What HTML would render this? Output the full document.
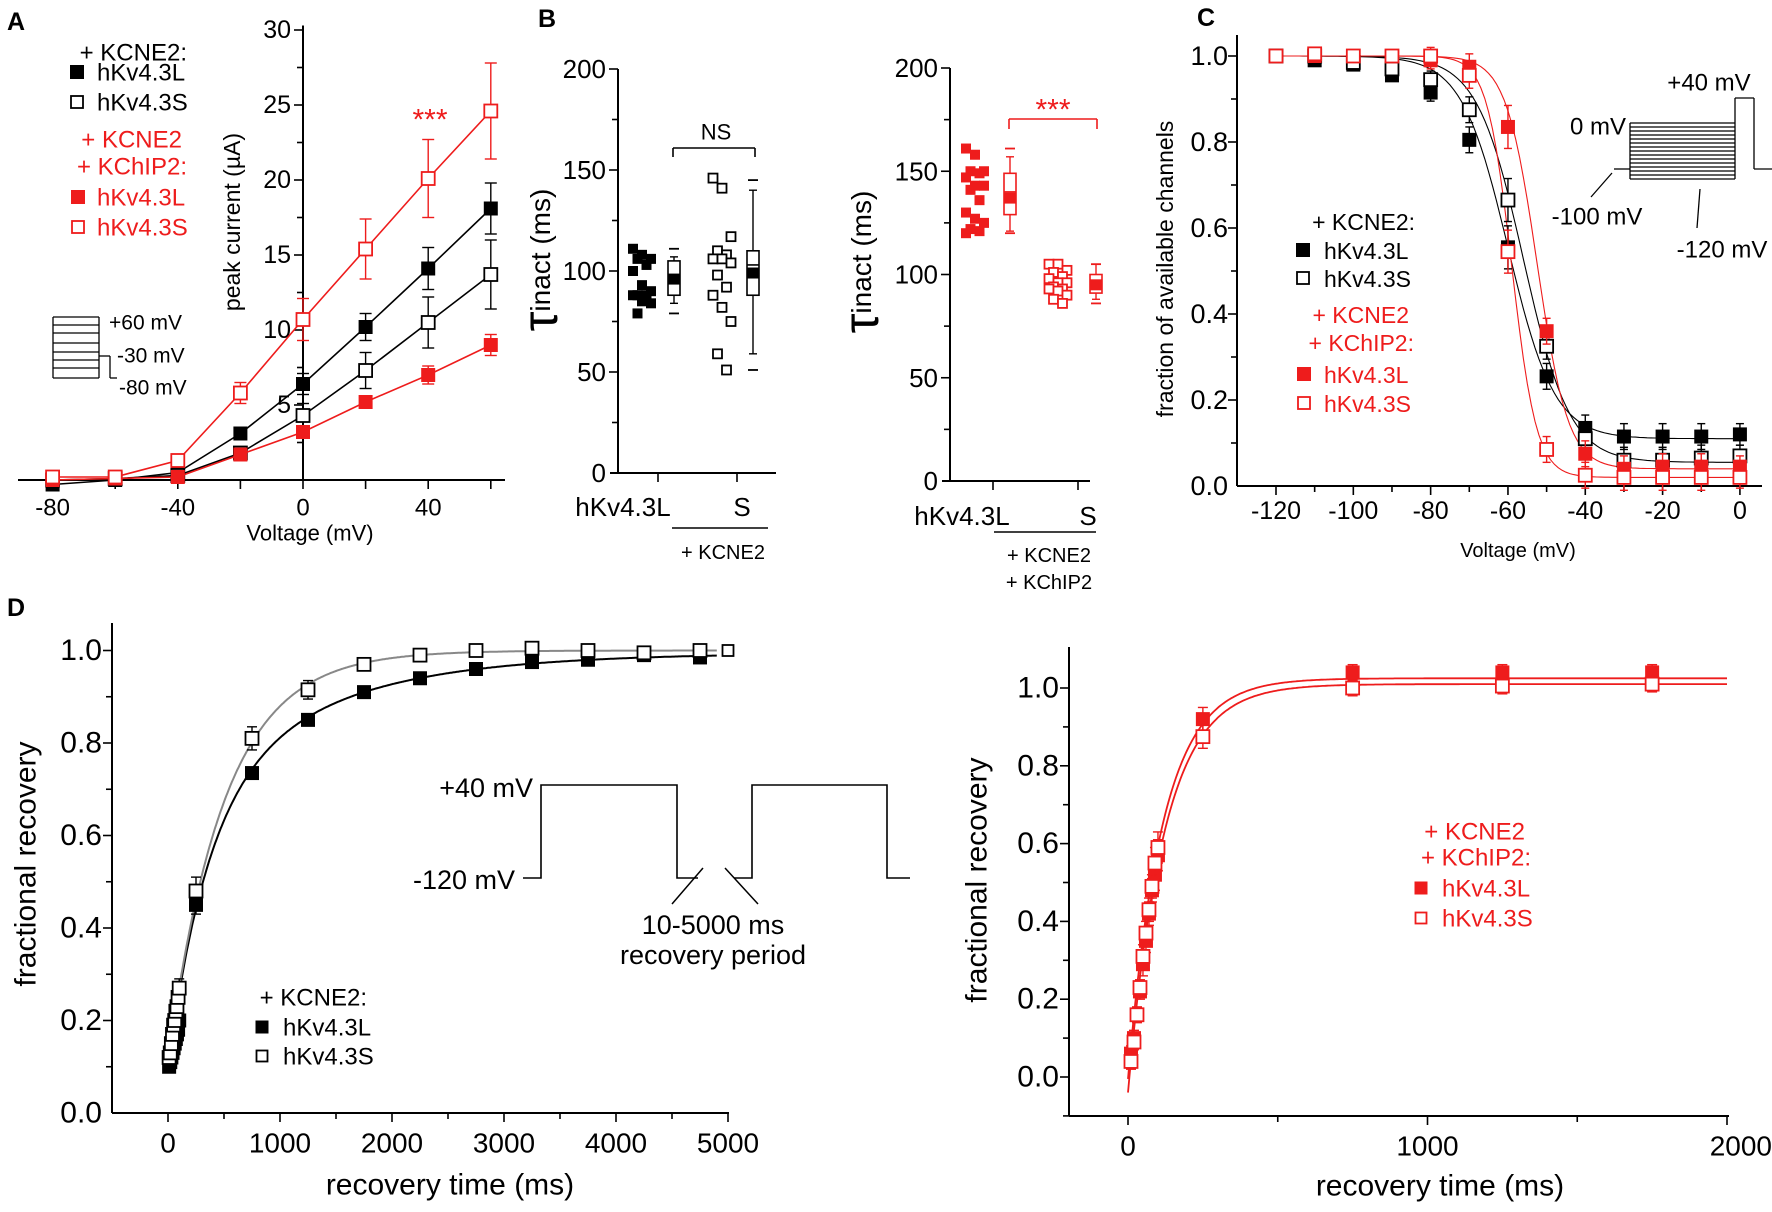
<!DOCTYPE html>
<html><head><meta charset="utf-8"><style>
html,body{margin:0;padding:0;background:#fff;}
svg{display:block;font-family:"Liberation Sans",Arial,sans-serif;}
</style></head><body>
<svg id="fig" width="1772" height="1212" viewBox="0 0 1772 1212" xmlns="http://www.w3.org/2000/svg"></svg>
<script>
// ---------- Panel A data ----------
const aVolt=[-80,-60,-40,-20,0,20,40,60];
const aKL=[-0.3,0,0.5,3.1,6.4,10.2,14.1,18.1];
const aKLe=[0.1,0.1,0.2,0.2,0.7,0.9,1.4,1.7];
const aKS=[0,0.1,0.3,1.8,4.3,7.3,10.5,13.7];
const aKSe=[0.1,0.1,0.2,0.3,0.8,1.2,1.7,2.3];
const aRL=[0,0.1,0.2,1.7,3.2,5.2,7.0,9.0];
const aRLe=[0.1,0.1,0.1,0.2,0.3,0.3,0.6,0.7];
const aRS=[0.2,0.2,1.3,5.8,10.7,15.4,20.1,24.6];
const aRSe=[0.1,0.1,0.4,0.7,1.4,2.0,2.6,3.2];
const aYTicks=[5,10,15,20,25,30];
const aXTicks=[-80,-40,0,40];
// ---------- Panel B data ----------
const bLeftL=[111,108,106,106,103,100,93,90,88,88,88,85,84,79];
const bLeftS=[146,141,117,110,108,106,106,104,98,92,88,82,75,59,51];
const bRightL=[161,158,150,150,149,147,143,143,141,136,130,127,125,122,121,120];
const bRightS=[105,105,102,101,99,98,96,96,94,93,93,92,90,88,86];
// [p1,p5,q1,median,q3,p95,p99,mean]
const bBoxLeftL=[79,84,88,95,105,107,111,96];
const bBoxLeftS=[51,59,88,103,110,140,145,99];
const bBoxRightL=[120,121,129,140,149,157,161,137];
const bBoxRightS=[86,88,91,96,100,105,105,95];
const bYTicks=[0,50,100,150,200];
// ---------- Panel C data ----------
const cVolt=[-120,-110,-100,-90,-80,-70,-60,-50,-40,-30,-20,-10,0];
const cKL=[1.0,0.99,0.98,0.955,0.915,0.805,0.555,0.255,0.135,0.115,0.115,0.115,0.12];
const cKS=[1.0,1.0,0.985,0.97,0.945,0.875,0.665,0.325,0.11,0.06,0.06,0.065,0.07];
const cRL=[1.0,1.0,1.0,1.0,0.99,0.975,0.835,0.36,0.075,0.04,0.045,0.045,0.045];
const cRS=[1.0,1.005,1.0,1.0,1.0,0.955,0.545,0.085,0.025,0.02,0.02,0.02,0.02];
const cErr=[0.005,0.01,0.01,0.01,0.02,0.03,0.05,0.03,0.03,0.03,0.03,0.03,0.025];
const cFitVh=[-60,-56,-52.5,-59];
const cFitK=[6,6,4,3.2];
const cFitBot=[0.11,0.055,0.04,0.02];
const cXTicks=[-120,-100,-80,-60,-40,-20,0];
const cYTicks=[0,0.2,0.4,0.6,0.8,1.0];
// ---------- Panel D data ----------
const dTime=[10,20,30,40,50,60,70,80,90,100,250,750,1250,1750,2250,2750,3250,3750,4250,4750];
const dKL=[0.10,0.11,0.12,0.13,0.14,0.15,0.16,0.17,0.18,0.20,0.45,0.735,0.85,0.91,0.94,0.96,0.975,0.98,0.99,0.985];
const dKLe=[0.01,0.01,0.01,0.01,0.01,0.01,0.01,0.01,0.01,0.01,0.02,0.01,0.01,0.01,0.01,0.01,0.01,0.01,0.01,0.01];
const dKS=[0.12,0.13,0.15,0.17,0.19,0.20,0.22,0.23,0.25,0.27,0.48,0.81,0.915,0.97,0.99,1.0,1.005,1.0,0.995,1.0];
const dKSe=[0.02,0.02,0.02,0.02,0.02,0.02,0.02,0.02,0.02,0.02,0.03,0.025,0.02,0.01,0.01,0.01,0.01,0.01,0.01,0.01];
const dFitL=[0.995,0.55,350,0.35,1200];
const dFitS=[1.0,0.89,500,0,1];
const rTime=[10,20,30,40,50,60,70,80,90,100,250,750,1250,1750];
const rRL=[0.06,0.10,0.16,0.22,0.29,0.35,0.42,0.48,0.52,0.57,0.92,1.04,1.04,1.04];
const rRS=[0.04,0.09,0.16,0.23,0.31,0.37,0.43,0.49,0.55,0.59,0.875,1.0,1.005,1.01];
const rErr=[0.02,0.02,0.02,0.02,0.03,0.03,0.03,0.03,0.04,0.04,0.03,0.02,0.02,0.02];
const rFitL=[1.025,1.03,115];
const rFitS=[1.01,1.05,120];
const dXTicks=[0,1000,2000,3000,4000,5000];
const rXTicks=[0,1000,2000];
const dYTicks=[0,0.2,0.4,0.6,0.8,1.0];

const NS='http://www.w3.org/2000/svg';
const svg=document.getElementById('fig');
const RED='#ee1c1c';
function mk(tag,attrs,parent){const e=document.createElementNS(NS,tag);for(const k in attrs)e.setAttribute(k,attrs[k]);(parent||svg).appendChild(e);return e;}
function grp(name){const g=mk('g',{});return g;}
function line(g,x1,y1,x2,y2,col,w){const l=mk('line',{x1:x1,y1:y1,x2:x2,y2:y2,stroke:col||'#000','stroke-width':w||2},g);return l;}
function txt(g,x,y,s,size,anchor,col,extra){const t=mk('text',{x:x,y:y,'font-size':size,'text-anchor':anchor||'middle','dominant-baseline':'central',fill:col||'#000'},g);if(extra)for(const k in extra)t.setAttribute(k,extra[k]);t.textContent=s;return t;}
function marker(g,x,y,sz,col,filled){const r=mk('rect',{x:x-sz/2,y:y-sz/2,width:sz,height:sz,fill:filled?col:'#fff',stroke:col,'stroke-width':filled?1:1.8},g);return r;}
function errbar(g,x,y1,y2,col,cap){line(g,x,y1,x,y2,col,1.4);line(g,x-cap,y1,x+cap,y1,col,1.4);line(g,x-cap,y2,x+cap,y2,col,1.4);}
function polyl(g,pts,col,w){const p=mk('polyline',{points:pts.map(p=>p[0].toFixed(1)+','+p[1].toFixed(1)).join(' '),fill:'none',stroke:col,'stroke-width':w||1.6},g);return p;}

// ================= PANEL A =================
(function(){
const g=grp('panel-a');
const ax=v=>303+v*3.13, ay=v=>480-v*15.0;
txt(g,16,22,'A',25,'middle','#000',{'font-weight':'bold'});
line(g,ax(0),ay(30.3),ax(0),ay(0));
for(let v=2.5;v<=30;v+=2.5){const maj=Math.abs(v%5)<1e-6;line(g,ax(0)-(maj?9:6),ay(v),ax(0),ay(v),'#000',1.6);}
aYTicks.forEach(v=>txt(g,ax(0)-12,ay(v),String(v),25,'end'));
line(g,18,ay(0),505,ay(0));
for(let v=-80;v<=60;v+=20)line(g,ax(v),ay(0),ax(v),ay(0)+9,'#000',1.6);
aXTicks.forEach(v=>txt(g,ax(v),508,String(v),24));
txt(g,310,533,'Voltage (mV)',22);
txt(g,232,222,'peak current (µA)',23,'middle','#000',{transform:'rotate(-90 232 222)'});
const series=[[aKL,aKLe,'#000',true],[aKS,aKSe,'#000',false],[aRL,aRLe,RED,true],[aRS,aRSe,RED,false]];
series.forEach(([d,e,c,f])=>{
  polyl(g,aVolt.map((v,i)=>[ax(v),ay(d[i])]),c,1.6);
  aVolt.forEach((v,i)=>errbar(g,ax(v),ay(d[i]+e[i]),ay(d[i]-e[i]),c,6));
  aVolt.forEach((v,i)=>marker(g,ax(v),ay(d[i]),13,c,f));
});
txt(g,430,120,'***',30,'middle',RED);
txt(g,187,53,'+ KCNE2:',24,'end');
marker(g,77,72,13,'#000',true);txt(g,97,73,'hKv4.3L',24,'start');
marker(g,77,102,12,'#000',false);txt(g,97,103,'hKv4.3S',24,'start');
txt(g,182,140,'+ KCNE2',24,'end',RED);
txt(g,187,167,'+ KChIP2:',24,'end',RED);
marker(g,78,197,13,RED,true);txt(g,97,198,'hKv4.3L',24,'start',RED);
marker(g,78,227,12,RED,false);txt(g,97,228,'hKv4.3S',24,'start',RED);
const ins=grp('a-protocol-inset');
[317,325,333,343,352,360,368,378].forEach(y=>line(ins,53,y,99,y,'#000',1.3));
line(ins,53,317,53,378,'#000',1.3);line(ins,99,317,99,378,'#000',1.3);
line(ins,99,356,110,356,'#000',1.3);line(ins,110,356,110,378,'#000',1.3);line(ins,110,378,117,378,'#000',1.3);
txt(ins,109,323,'+60 mV',21,'start');txt(ins,117,356,'-30 mV',21,'start');txt(ins,119,388,'-80 mV',21,'start');
})();

// ================= PANEL B =================
function boxPanel(name,axX,y0,scale,tickL,tickS,xEnd,dataL,dataS,boxL,boxS,col,dotXL,boxXL,dotXS,boxXS){
 const g=grp(name);
 const by=v=>y0-v*scale;
 line(g,axX,by(200),axX,by(0));
 for(let v=25;v<=200;v+=25){const maj=v%50===0;line(g,axX-(maj?9:6),by(v),axX,by(v),'#000',1.6);}
 bYTicks.forEach(v=>txt(g,axX-12,by(v),String(v),26,'end'));
 line(g,axX-8,by(0),xEnd,by(0));
 line(g,tickL,by(0),tickL,by(0)+9,'#000',1.6);line(g,tickS,by(0),tickS,by(0)+9,'#000',1.6);
 const off=[-9,0,9,-4.5,4.5];
 dataL.forEach((v,i)=>marker(g,dotXL+off[i%5],by(v),9,col,true));
 dataS.forEach((v,i)=>marker(g,dotXS+off[i%5],by(v),9,col,false));
 [[boxL,boxXL],[boxS,boxXS]].forEach(([b,x])=>{
   line(g,x-5,by(b[0]),x+5,by(b[0]),col,1.8);
   line(g,x-5,by(b[6]),x+5,by(b[6]),col,1.8);
   line(g,x,by(b[1]),x,by(b[5]),col,1.4);
   line(g,x-4,by(b[1]),x+4,by(b[1]),col,1.4);line(g,x-4,by(b[5]),x+4,by(b[5]),col,1.4);
   const r=mk('rect',{x:x-6,y:by(b[4]),width:12,height:by(b[2])-by(b[4]),fill:'#fff',stroke:col,'stroke-width':1.6},g);
   
   line(g,x-6,by(b[3]),x+6,by(b[3]),col,1.6);
   marker(g,x,by(b[7]),10,col,true);
 });
 return {g,by};
}
(function(){
const L=boxPanel('panel-b-left',618,473,2.02,658,737,776,bLeftL,bLeftS,bBoxLeftL,bBoxLeftS,'#000',642,674,722,753);
const g=L.g;
txt(g,547,19,'B',25,'middle','#000',{'font-weight':'bold'});
const t=txt(g,540,260,'',26,'middle','#000',{transform:'rotate(-90 540 260)'});
t.innerHTML='<tspan font-size="50">τ</tspan><tspan font-size="28">inact (ms)</tspan>';
line(g,673,157,673,148,'#000',1.6);line(g,673,148,755,148,'#000',1.6);line(g,755,148,755,157,'#000',1.6);
txt(g,716,132,'NS',22);
txt(g,623,507,'hKv4.3L',26);txt(g,742,507,'S',26);
line(g,672,528,768,528,'#000',1.6);
txt(g,723,553,'+ KCNE2',20);
const R=boxPanel('panel-b-right',950,481,2.065,993,1078,1090,bRightL,bRightS,bBoxRightL,bBoxRightS,RED,975,1010,1058,1096);
const h=R.g;
const t2=txt(h,861,262,'',26,'middle','#000',{transform:'rotate(-90 861 262)'});
t2.innerHTML='<tspan font-size="50">τ</tspan><tspan font-size="28">inact (ms)</tspan>';
line(h,1009,129,1009,119,RED,1.6);line(h,1009,119,1097,119,RED,1.6);line(h,1097,119,1097,129,RED,1.6);
txt(h,1053,110,'***',30,'middle',RED);
txt(h,962,516,'hKv4.3L',26);txt(h,1088,516,'S',26);
line(h,994,532,1096,532,'#000',1.6);
txt(h,1049,556,'+ KCNE2',20);txt(h,1049,583,'+ KChIP2',20);
})();

// ================= PANEL C =================
(function(){
const g=grp('panel-c');
const cx=v=>1276+(v+120)*3.866, cy=v=>486-v*430;
txt(g,1206,18,'C',25,'middle','#000',{'font-weight':'bold'});
line(g,1237,35,1237,486);
for(let k=1;k<=10;k++){const v=k/10;line(g,1237-(k%2===0?9:6),cy(v),1237,cy(v),'#000',1.6);}
cYTicks.forEach(v=>txt(g,1228,cy(v),v.toFixed(1),27,'end'));
line(g,1237,486,1762,486);
for(let v=-120;v<=0;v+=10)line(g,cx(v),486,cx(v),486+(v%20===0?9:6),'#000',1.6);
cXTicks.forEach(v=>txt(g,cx(v),511,String(v),25));
txt(g,1518,551,'Voltage (mV)',20);
txt(g,1165,269,'fraction of available channels',23,'middle','#000',{transform:'rotate(-90 1165 269)'});
const ser=[[cKL,'#000',true],[cKS,'#000',false],[cRL,RED,true],[cRS,RED,false]];
ser.forEach(([d,c,f],si)=>{
  const pts=[];for(let v=-120;v<=0.01;v+=1){const y=cFitBot[si]+(1-cFitBot[si])/(1+Math.exp((v-cFitVh[si])/cFitK[si]));pts.push([cx(v),cy(y)]);}
  polyl(g,pts,c,1.1);
});
ser.forEach(([d,c,f])=>{
  cVolt.forEach((v,i)=>errbar(g,cx(v),cy(d[i]+cErr[i]),cy(d[i]-cErr[i]),c,4));
  cVolt.forEach((v,i)=>marker(g,cx(v),cy(d[i]),13,c,f));
});
txt(g,1415,222,'+ KCNE2:',23,'end');
marker(g,1303,250,13,'#000',true);txt(g,1324,251,'hKv4.3L',23,'start');
marker(g,1303,278,12,'#000',false);txt(g,1324,279,'hKv4.3S',23,'start');
txt(g,1409,315,'+ KCNE2',23,'end',RED);
txt(g,1414,343,'+ KChIP2:',23,'end',RED);
marker(g,1304,374,13,RED,true);txt(g,1324,375,'hKv4.3L',23,'start',RED);
marker(g,1304,403,12,RED,false);txt(g,1324,404,'hKv4.3S',23,'start',RED);
const ins=grp('c-protocol-inset');
for(let i=0;i<=14;i++){const y=123+i*4;line(ins,1630,y,1735,y,'#000',1.2);}
line(ins,1630,123,1630,179,'#000',1.3);
line(ins,1614,169,1630,169,'#000',1.3);
line(ins,1735,98,1735,179,'#000',1.3);line(ins,1735,98,1754,98,'#000',1.3);
line(ins,1754,98,1754,169,'#000',1.3);line(ins,1754,169,1772,169,'#000',1.3);
txt(ins,1709,83,'+40 mV',24);
txt(ins,1626,127,'0 mV',24,'end');
line(ins,1612,173,1591,197,'#000',1.3);
txt(ins,1597,217,'-100 mV',24);
line(ins,1700,189,1697,228,'#000',1.3);
txt(ins,1722,250,'-120 mV',24);
})();

// ================= PANEL D left =================
(function(){
const g=grp('panel-d-left');
const dx=t=>168+t*0.112, dy=v=>1113-v*462.5;
txt(g,16,608,'D',25,'middle','#000',{'font-weight':'bold'});
line(g,112,623,112,1113);
for(let k=1;k<=10;k++){const v=k/10;line(g,112-(k%2===0?9:6),dy(v),112,dy(v),'#000',1.6);}
dYTicks.forEach(v=>txt(g,102,dy(v),v.toFixed(1),30,'end'));
line(g,112,1113,729,1113);
for(let t=0;t<=5000;t+=500)line(g,dx(t),1113,dx(t),1113+(t%1000===0?9:6),'#000',1.6);
dXTicks.forEach(t=>txt(g,dx(t),1143,String(t),28));
txt(g,450,1185,'recovery time (ms)',30);
txt(g,26,864,'fractional recovery',30,'middle','#000',{transform:'rotate(-90 26 864)'});
[[dFitL,'#000'],[dFitS,'#888']].forEach(([p,c])=>{
 const pts=[];for(let t=0;t<=4900;t+=10){const y=p[0]-p[1]*Math.exp(-t/p[2])-p[3]*Math.exp(-t/p[4]);pts.push([dx(t),dy(y)]);}
 polyl(g,pts,c,2);
});
[[dKL,dKLe,true],[dKS,dKSe,false]].forEach(([d,e,f])=>{
 dTime.forEach((t,i)=>errbar(g,dx(t),dy(d[i]+e[i]),dy(d[i]-e[i]),'#000',5));
 dTime.forEach((t,i)=>marker(g,dx(t),dy(d[i]),13,'#000',f));
});
marker(g,dx(5000),dy(1.0),11,'#000',false);
txt(g,367,998,'+ KCNE2:',24,'end');
marker(g,262,1027,12,'#000',true);txt(g,283,1028,'hKv4.3L',24,'start');
marker(g,262,1056,11,'#000',false);txt(g,283,1057,'hKv4.3S',24,'start');
const ins=grp('d-protocol-inset');
polyl(ins,[[523,878],[541,878],[541,785],[677,785],[677,878],[698,878]],'#000',1.6);
polyl(ins,[[734,878],[752,878],[752,785],[887,785],[887,878],[910,878]],'#000',1.6);
line(ins,703,868,672,904,'#000',1.5);line(ins,725,868,758,904,'#000',1.5);
txt(ins,533,788,'+40 mV',27,'end');txt(ins,515,880,'-120 mV',27,'end');
txt(ins,713,925,'10-5000 ms',27);txt(ins,713,955,'recovery period',27);
})();

// ================= PANEL D right =================
(function(){
const g=grp('panel-d-right');
const rx=t=>1128+t*0.2995, ry=v=>1077-v*389;
line(g,1069,647,1069,1116);
for(let k=-1;k<=10;k++){if(k===0)continue;const v=k/10;line(g,1069-(k%2===0?9:6),ry(v),1069,ry(v),'#000',1.6);}
line(g,1060,ry(0),1069,ry(0),'#000',1.6);
dYTicks.forEach(v=>txt(g,1059,ry(v),v.toFixed(1),30,'end'));
line(g,1069,1116,1729,1116);
for(let t=0;t<=2000;t+=500)line(g,rx(t),1116,rx(t),1116+(t%1000===0?9:6),'#000',1.6);
rXTicks.forEach(t=>txt(g,Math.min(rx(t),1740),1146,String(t),28,t===2000?'end':'middle',undefined,t===2000?{x:1772}:undefined));
txt(g,1440,1186,'recovery time (ms)',30);
txt(g,977,880,'fractional recovery',30,'middle','#000',{transform:'rotate(-90 977 880)'});
[rFitL,rFitS].forEach(p=>{
 const pts=[];for(let t=0;t<=2000;t+=5){pts.push([rx(t),ry(p[0]-p[1]*Math.exp(-t/p[2]))]);}
 polyl(g,pts,RED,1.8);
});
[[rRL,true],[rRS,false]].forEach(([d,f])=>{
 rTime.forEach((t,i)=>errbar(g,rx(t),ry(d[i]+rErr[i]),ry(d[i]-rErr[i]),RED,5));
 rTime.forEach((t,i)=>marker(g,rx(t),ry(d[i]),13,RED,f));
});
txt(g,1525,832,'+ KCNE2',24,'end',RED);
txt(g,1531,858,'+ KChIP2:',24,'end',RED);
marker(g,1421,888,12,RED,true);txt(g,1442,889,'hKv4.3L',24,'start',RED);
marker(g,1421,918,11,RED,false);txt(g,1442,919,'hKv4.3S',24,'start',RED);
})();
</script>
</body></html>
